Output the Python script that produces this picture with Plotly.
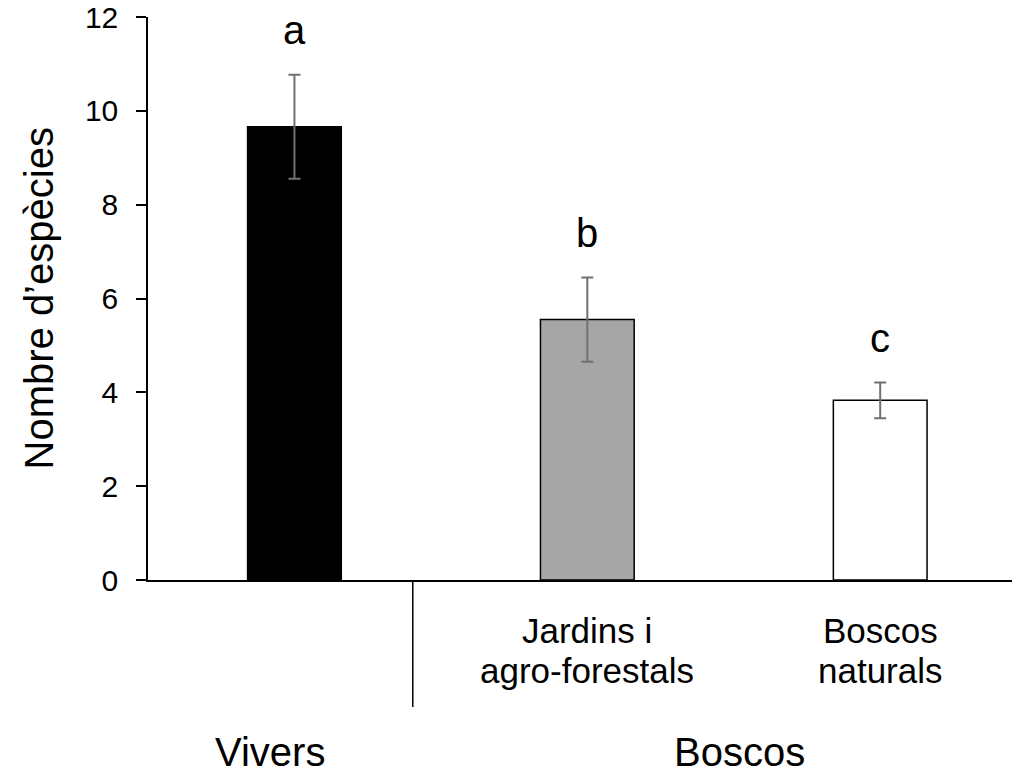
import plotly.graph_objects as go

# Species richness per habitat type
categories = ["Vivers", "Jardins i\nagro-forestals", "Boscos\nnaturals"]
means = [9.66, 5.55, 3.83]
errors = [1.11, 0.90, 0.38]
letters = ["a", "b", "c"]
bar_colors = ["#000000", "#A6A6A6", "#FFFFFF"]
y_ticks = [0, 2, 4, 6, 8, 10, 12]
groups = ["Vivers", "Boscos"]

FONT = "Liberation Sans, Arial, sans-serif"
x_pos = list(range(len(categories)))

fig = go.Figure()
fig.add_trace(go.Bar(
    x=x_pos,
    y=means,
    width=0.32,
    marker=dict(color=bar_colors, line=dict(color="#000000", width=1.5)),
    error_y=dict(type="data", array=errors, visible=True,
                 color="#707070", thickness=2, width=6),
    showlegend=False,
))

annotations = []
# significance letters above error bars
for x, m, e, t in zip(x_pos, means, errors, letters):
    annotations.append(dict(x=x, y=m + e + 0.95, xref="x", yref="y", text=t,
                            showarrow=False, font=dict(size=40, color="#000"),
                            xanchor="center", yanchor="middle"))

# category labels under the Boscos bars (one annotation per text line)
for x, label in zip(x_pos[1:], categories[1:]):
    for i, line in enumerate(label.split("\n")):
        annotations.append(dict(x=x, y=0, xref="x", yref="paper", text=line,
                                showarrow=False, font=dict(size=35, color="#000"),
                                xanchor="center", yanchor="middle",
                                yshift=-50 - 40 * i))

# group labels
annotations.append(dict(x=0, y=0, xref="x", yref="paper", text=groups[0],
                        showarrow=False, font=dict(size=40, color="#000"),
                        xanchor="center", yanchor="middle", xshift=-24, yshift=-172))
annotations.append(dict(x=1.5, y=0, xref="x", yref="paper", text=groups[1],
                        showarrow=False, font=dict(size=40, color="#000"),
                        xanchor="center", yanchor="middle", xshift=6, yshift=-172))

# y-axis title
annotations.append(dict(x=0, y=0.5, xref="paper", yref="paper",
                        text="Nombre d\u2019esp\u00e8cies", textangle=-90,
                        showarrow=False, font=dict(size=40, color="#000"),
                        xanchor="center", yanchor="middle", xshift=-110))

fig.update_layout(
    width=1012, height=776,
    margin=dict(l=148, r=0, t=17, b=196),
    paper_bgcolor="#FFFFFF", plot_bgcolor="#FFFFFF",
    font=dict(family=FONT, color="#000000"),
    annotations=annotations,
    shapes=[dict(type="line", xref="x", yref="paper",
                 x0=0.404, x1=0.404, y0=0, y1=-0.2256,
                 line=dict(color="#000000", width=1.5))],
)
fig.update_xaxes(range=[-0.5, 2.45], showline=True, linecolor="#000000",
                 linewidth=1.5, showticklabels=False, ticks="",
                 showgrid=False, zeroline=False)
fig.update_yaxes(range=[0, 12], tickvals=y_ticks, ticktext=[str(v) for v in y_ticks],
                 showline=True, linecolor="#000000", linewidth=1.5,
                 ticks="outside", ticklen=10, tickcolor="#000000", tickwidth=1.5,
                 tickfont=dict(size=30, color="#000"), ticklabelstandoff=12,
                 showgrid=False, zeroline=False)

fig.write_html("out.html")
